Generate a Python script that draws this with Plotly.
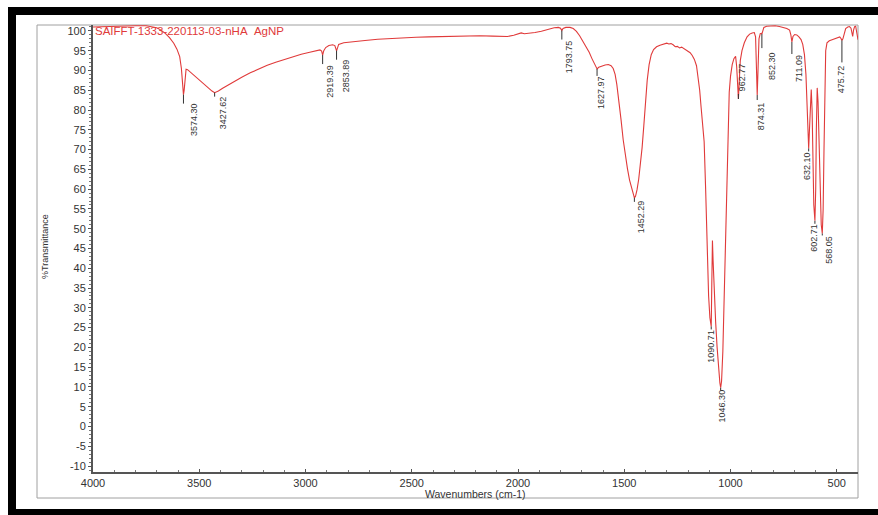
import plotly.graph_objects as go

# FTIR spectrum: wavenumber (cm-1) and % transmittance
wavenumber = [
    4000, 3950, 3900, 3850, 3800, 3750, 3720, 3700, 3680, 3660, 3640, 3620, 3605, 3592, 3584, 3578,
    3574.30, 3571, 3567, 3562, 3555, 3540, 3520, 3500, 3480, 3460, 3440, 3427.62, 3410, 3390, 3360,
    3330, 3300, 3260, 3220, 3180, 3140, 3100, 3060, 3020, 2980, 2950, 2932, 2924, 2919.39, 2914,
    2905, 2890, 2872, 2862, 2857, 2853.89, 2850, 2844, 2820, 2780, 2720, 2660, 2600, 2540, 2480,
    2420, 2360, 2300, 2240, 2180, 2120, 2080, 2050, 2020, 2000, 1985, 1970, 1950, 1920, 1890, 1860,
    1830, 1810, 1800, 1793.75, 1788, 1775, 1755, 1740, 1725, 1710, 1695, 1680, 1665, 1652, 1640,
    1632, 1627.97, 1620, 1605, 1590, 1575, 1562, 1552, 1543, 1535, 1525, 1515, 1505, 1495, 1485,
    1475, 1465, 1457, 1452.29, 1447, 1440, 1432, 1424, 1416, 1408, 1400, 1392, 1383, 1373, 1362,
    1348, 1332, 1315, 1300, 1290, 1280, 1270, 1260, 1250, 1240, 1230, 1220, 1210, 1200, 1190, 1180,
    1170, 1160, 1152, 1145, 1138, 1130, 1124, 1117, 1110, 1103, 1097, 1090.71, 1088, 1085, 1082,
    1076, 1070, 1063, 1056, 1050, 1046.30, 1042, 1036, 1030, 1024, 1018, 1012, 1006, 1000, 992, 984,
    976, 971, 967, 962.77, 959, 954, 946, 935, 922, 910, 898, 888, 882, 878, 874.31, 870, 866, 860,
    855, 852.30, 848, 843, 830, 810, 790, 770, 750, 735, 722, 716, 711.09, 706, 698, 688, 678, 668,
    660, 652, 645, 640, 636, 632.10, 628, 624, 620, 616, 612, 608, 602.71, 599, 596, 592, 588, 583,
    578, 573, 568.05, 564, 560, 556, 552, 546, 535, 522, 508, 495, 486, 480, 475.72, 471, 465, 458,
    448, 440, 433, 429, 425, 421, 416, 411, 407, 403, 400,
]
transmittance = [
    101.0, 101.1, 101.2, 101.3, 101.3, 101.3, 101.1, 100.8, 100.2, 99.4, 98.3, 96.9, 95.4, 93.5, 90.5, 86.5,
    83.9, 85.0, 88.6, 90.3, 90.2, 89.5, 88.6, 87.6, 86.6, 85.6, 84.8, 84.4, 84.8, 85.5, 86.5,
    87.5, 88.3, 89.4, 90.4, 91.3, 92.1, 92.8, 93.5, 94.1, 94.6, 95.0, 95.2, 94.9, 93.9, 95.0,
    95.8, 96.3, 96.5, 96.3, 95.6, 95.0, 95.6, 96.6, 97.0, 97.3, 97.6, 97.9, 98.1, 98.3, 98.4,
    98.5, 98.6, 98.7, 98.8, 98.8, 98.7, 98.6, 98.6, 98.9, 99.3, 99.5, 99.3, 99.4, 99.6, 99.9, 100.4,
    100.8, 100.9, 100.7, 100.1, 100.6, 100.9, 100.9, 100.6, 99.9, 98.8, 97.4, 96.0, 94.6, 93.0, 91.6,
    90.8, 90.4, 90.8, 91.2, 91.4, 91.5, 91.2, 90.5, 89.0, 86.5, 82.5, 77.5, 72.5, 68.5, 65.2,
    62.3, 60.0, 58.4, 57.8, 58.2, 59.8, 62.5, 66.0, 70.5, 76.0, 82.0, 87.5, 91.5, 94.0, 95.3,
    96.0, 96.4, 96.7, 96.9, 96.7, 96.8, 96.5, 96.0, 96.1, 95.7, 95.9, 95.6, 95.3, 95.0, 94.5, 93.8,
    92.8, 91.2, 88.5, 85.0, 80.5, 76.5, 72.0, 60.0, 44.0, 33.0, 27.5, 25.3, 36.0, 47.0, 42.0,
    33.0, 26.5, 20.0, 14.5, 11.0, 9.8, 11.5, 19.0, 32.0, 48.0, 64.0, 77.0, 84.5, 88.5, 91.5, 93.0,
    93.6, 91.0, 86.0, 82.8, 87.0, 92.5, 95.0, 97.0, 98.5, 99.2, 99.5, 99.6, 98.5, 92.0, 83.8, 91.0, 98.0, 99.3,
    99.4, 99.2, 100.2, 100.9, 101.2, 101.3, 101.3, 101.1, 100.8, 100.6, 100.2, 99.0, 97.2, 98.6, 99.1, 99.0, 98.5, 97.8,
    96.6, 94.0, 89.0, 82.0, 75.0, 70.3, 75.5, 82.5, 85.2, 80.0, 68.0, 56.0, 52.0, 60.0, 75.0, 85.6, 82.0, 70.0,
    59.0, 51.0, 48.8, 55.0, 70.0, 86.0, 95.0, 97.0, 97.5, 97.8, 98.1, 98.4, 98.5, 98.1, 97.6, 98.0, 99.6, 100.6,
    101.0, 101.1, 100.7, 99.2, 98.6, 100.2, 101.1, 101.2, 99.8, 98.3, 97.8,
]

# Picked peaks (labels are the wavenumbers themselves)
peak_labels = ["3574.30", "3427.62", "2919.39", "2853.89", "1793.75", "1627.97", "1452.29",
               "1090.71", "1046.30", "962.77", "874.31", "852.30", "711.09", "632.10",
               "602.71", "568.05", "475.72"]

# Axis tick values
x_ticks = [4000, 3500, 3000, 2500, 2000, 1500, 1000, 500]
y_ticks = list(range(-10, 101, 5))

# Label placement relative to the peak (pixels: right, down) and marker-tick length (px)
label_dx = [10, 8, 7, 9, 7, 4, 6, 0, 1, 4, 4, 10, 7, -1, -1, 7, 0]
label_dy = [25, 20, 26, 25, 26, 24, 19, 20, 18, -22, 21, 32, 26, 18, 17, 16, 39]
tick_px = [9, 4, 9, 9, 9, 7, 4, 3, 3, -5, 5, 14, 12, 3, 3, 2, 22]

X_RANGE = [4000, 400]
Y_RANGE = [-11.5, 101.5]
W, H = 878, 515
M_L, M_R, M_T, M_B = 93, 20, 25, 43
plot_w = W - M_L - M_R
plot_h = H - M_T - M_B
y_per_px = (Y_RANGE[1] - Y_RANGE[0]) / plot_h

def px_x(p):
    return (p - M_L) / plot_w

def px_y(p):
    return (H - M_B - p) / plot_h

RED = "#e03a3a"
FONT = "Liberation Sans, Arial, sans-serif"

lookup = dict(zip(wavenumber, transmittance))

fig = go.Figure()
fig.add_trace(go.Scatter(
    x=wavenumber, y=transmittance, mode="lines",
    line=dict(color=RED, width=1.1), hoverinfo="skip", showlegend=False,
))

# short marker ticks under each picked peak
tx, ty = [], []
for lab, tl in zip(peak_labels, tick_px):
    wn = float(lab)
    t = lookup[wn]
    tx += [wn, wn, None]
    ty += [t, t - tl * y_per_px, None]
fig.add_trace(go.Scatter(
    x=tx, y=ty, mode="lines", line=dict(color="#333333", width=1),
    hoverinfo="skip", showlegend=False,
))

annotations = []
for lab, dx, dy in zip(peak_labels, label_dx, label_dy):
    wn = float(lab)
    annotations.append(dict(
        x=wn, y=lookup[wn], xref="x", yref="y", text=lab, showarrow=False,
        textangle=-90, xanchor="center", yanchor="middle",
        xshift=dx, yshift=-dy, font=dict(family=FONT, size=9, color="#333333"),
    ))

annotations += [
    dict(x=0, y=px_y(31), xref="paper", yref="paper", xanchor="left", yanchor="middle",
         text="SAIFFT-1333-220113-03-nHA&nbsp;&nbsp;AgNP", showarrow=False,
         font=dict(family=FONT, size=11.5, color=RED)),
    dict(x=px_x(45), y=px_y(247), xref="paper", yref="paper", xanchor="center", yanchor="middle",
         text="%Transmittance", textangle=-90, showarrow=False,
         font=dict(family=FONT, size=9, color="#333333")),
    dict(x=px_x(475), y=px_y(494), xref="paper", yref="paper", xanchor="center", yanchor="middle",
         text="Wavenumbers (cm-1)", showarrow=False,
         font=dict(family=FONT, size=10.5, color="#333333")),
]

shapes = [
    # outer grey frame
    dict(type="rect", xref="paper", yref="paper", x0=px_x(37), x1=px_x(858), y0=px_y(498), y1=px_y(25),
         line=dict(color="#a0a0a0", width=1), fillcolor="rgba(0,0,0,0)", layer="below"),
    # black image border (top, left, bottom)
    dict(type="rect", xref="paper", yref="paper", x0=px_x(8), x1=px_x(W), y0=px_y(15), y1=px_y(7),
         line=dict(width=0), fillcolor="black"),
    dict(type="rect", xref="paper", yref="paper", x0=px_x(8), x1=px_x(16), y0=px_y(H), y1=px_y(7),
         line=dict(width=0), fillcolor="black"),
    dict(type="rect", xref="paper", yref="paper", x0=px_x(8), x1=px_x(W), y0=px_y(H), y1=px_y(509),
         line=dict(width=0), fillcolor="black"),
]

fig.update_layout(
    width=W, height=H,
    margin=dict(l=M_L, r=M_R, t=M_T, b=M_B, pad=0),
    paper_bgcolor="white", plot_bgcolor="white",
    font=dict(family=FONT, size=11, color="#333333"),
    annotations=annotations, shapes=shapes, showlegend=False,
)
fig.update_xaxes(
    range=X_RANGE, showgrid=False, zeroline=False,
    showline=True, linecolor="#555555", linewidth=2,
    tickmode="array", tickvals=x_ticks, ticktext=[str(v) for v in x_ticks],
    ticks="inside", ticklen=3, tickcolor="#555555", ticklabelstandoff=0,
    minor=dict(ticks="inside", ticklen=2, dtick=100, tick0=0, tickcolor="#777777"),
    tickfont=dict(family=FONT, size=11, color="#333333"),
)
fig.update_yaxes(
    range=Y_RANGE, showgrid=False, zeroline=False,
    showline=True, linecolor="#555555", linewidth=2,
    tickmode="array", tickvals=y_ticks, ticktext=[str(v) for v in y_ticks],
    ticks="outside", ticklen=3, tickcolor="#555555",
    minor=dict(ticks="outside", ticklen=2, dtick=1, tickcolor="#777777"),
    tickfont=dict(family=FONT, size=11, color="#333333"),
)

fig.write_html("out.html")
